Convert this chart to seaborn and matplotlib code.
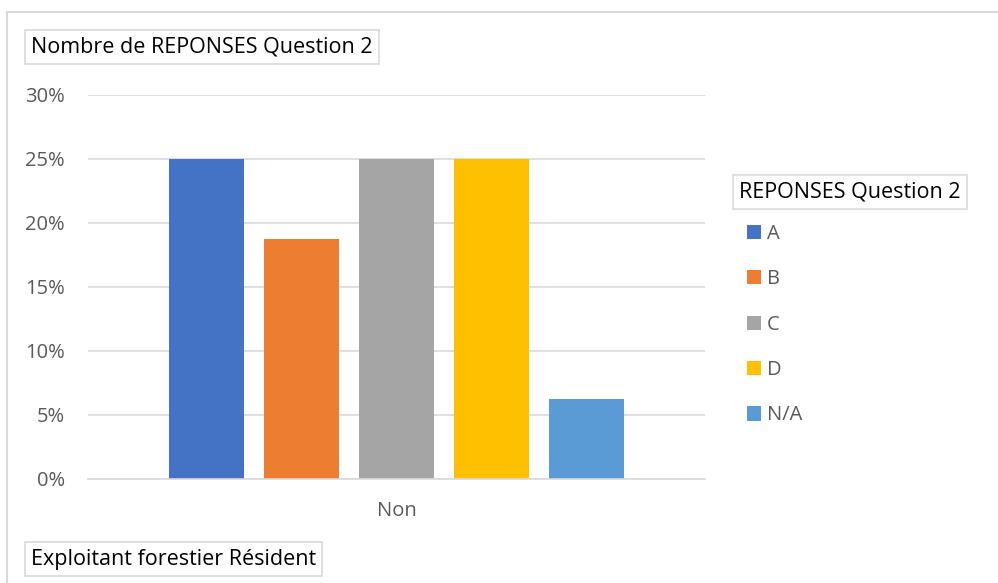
import matplotlib
matplotlib.use("Agg")
import matplotlib.pyplot as plt
from matplotlib.patches import Rectangle, Patch
from matplotlib.ticker import PercentFormatter
import seaborn as sns
import pandas as pd

# values
reponses = ["A", "B", "C", "D", "N/A"]
pourcentages = [0.25, 0.1875, 0.25, 0.25, 0.0625]
groupe = ["Non"] * 5
couleurs = ["#4472C4", "#ED7D31", "#A5A5A5", "#FFC000", "#5B9BD5"]
y_ticks = [0, 0.05, 0.10, 0.15, 0.20, 0.25, 0.30]

df = pd.DataFrame({"groupe": groupe, "reponse": reponses, "pct": pourcentages})

sns.set_style("white")
plt.rcParams["font.family"] = ["Open Sans", "DejaVu Sans"]

W, H = 998, 583
fig = plt.figure(figsize=(W / 100, H / 100), dpi=100)

# plot area in pixels: x 88..705, y 95..479
ax = fig.add_axes([88 / W, 1 - 479 / H, (705 - 88) / W, (479 - 95) / H])

sns.barplot(data=df, x="groupe", y="pct", hue="reponse", hue_order=reponses,
            palette=couleurs, width=0.768, gap=0.208, saturation=1,
            linewidth=0, legend=False, ax=ax)

ax.set_xlim(-0.5, 0.5)
ax.set_ylim(0, 0.30)
ax.set_yticks(y_ticks)
ax.yaxis.set_major_formatter(PercentFormatter(1.0, decimals=0))
ax.grid(axis="y", color="#D9D9D9", linewidth=1.2)
ax.set_axisbelow(True)
for s in ["top", "right", "left"]:
    ax.spines[s].set_visible(False)
ax.spines["bottom"].set_color("#D9D9D9")
ax.spines["bottom"].set_linewidth(1.2)
ax.tick_params(axis="both", length=0, colors="#595959", labelsize=14.5)
ax.tick_params(axis="y", pad=16.5)
ax.tick_params(axis="x", pad=16)
ax.set_xlabel("")
ax.set_ylabel("")

# outer chart border
fig.patches.append(Rectangle((7 / W, -0.05), 1.1, 1 - 12 / H + 0.05,
                             transform=fig.transFigure, fill=False,
                             edgecolor="#D9D9D9", linewidth=1.5))

box = dict(boxstyle="square,pad=0.28", facecolor="white",
           edgecolor="#D9D9D9", linewidth=1.2)
fig.text(31 / W, 1 - 47 / H, "Nombre de REPONSES Question 2", fontsize=15.5,
         color="black", va="center", ha="left", bbox=box)
fig.text(31 / W, 1 - 559 / H, "Exploitant forestier Résident", fontsize=15.5,
         color="black", va="center", ha="left", bbox=box)
fig.text(739 / W, 1 - 192 / H, "REPONSES Question 2", fontsize=15.5,
         color="black", va="center", ha="left", bbox=box)

handles = [Patch(facecolor=c, edgecolor="none") for c in couleurs]
leg = fig.legend(handles, reponses, loc="upper left",
                 bbox_to_anchor=(747 / W, 1 - 224 / H), frameon=False,
                 borderpad=0, borderaxespad=0,
                 fontsize=14.5, handlelength=0.7, handleheight=0.7,
                 handletextpad=0.3, labelspacing=1.26, labelcolor="#595959")

fig.savefig("out.png", dpi=100)
